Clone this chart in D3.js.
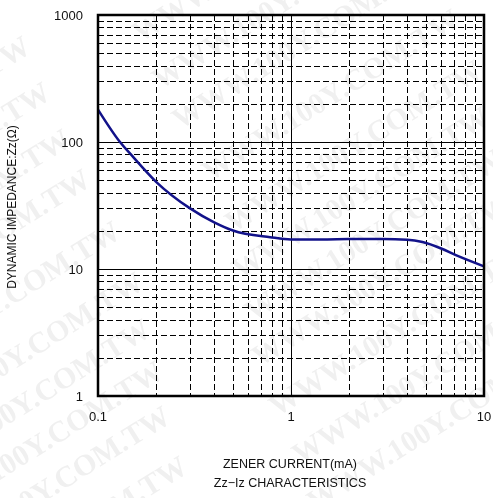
<!DOCTYPE html>
<html>
<head>
<meta charset="utf-8">
<script src="https://cdn.jsdelivr.net/npm/d3@7"></script>
<style>
  body { margin: 0; background: #fff; }
  svg { display: block; font-family: "Liberation Sans", Arial, sans-serif; }
</style>
</head>
<body>
<svg id="chart" width="493" height="498"></svg>
<script>
// Data
const currentMA = [0.1, 0.13, 0.15, 0.2, 0.3, 0.4, 0.5, 0.78, 1.0, 1.5, 2, 3, 4, 4.8, 6, 7.2, 10];
const impedance = [180, 100, 78, 48.6, 30, 23.3, 20.1, 17.8, 17.1, 17.1, 17.2, 17.2, 17.0, 16.3, 14.5, 12.8, 10.5];
const xTickValues = [0.1, 1, 10];
const xTickLabels = ["0.1", "1", "10"];
const yTickValues = [1, 10, 100, 1000];
const yTickLabels = ["1", "10", "100", "1000"];
const xTitle = "ZENER CURRENT(mA)";
const subTitle = "Zz\u2212Iz CHARACTERISTICS";
const yTitle = "DYNAMIC IMPEDANCE:Zz(\u03A9)";
const watermark = "WWW.100Y.COM.TW";
// watermark row anchors (screen positions where a copy starts)
const wmRows = [[120, -3], [140, 43], [160, 90], [180, 130], [210, 182], [233, 233], [240, 280], [253, 322], [260, 367], [277, 417], [300, 465], [315, 512]];

const svg = d3.select("#chart");
const L = 98, R = 484, T = 15, B = 396;

const x = d3.scaleLog().domain([0.1, 10]).range([L, R]);
const y = d3.scaleLog().domain([1, 1000]).range([B, T]);

// faint watermarks
const ang = 32, rad = ang * Math.PI / 180, period = 400;
const wm = svg.append("g").attr("fill", "#000").attr("opacity", 0.06)
  .attr("font-family", "'Liberation Serif', 'DejaVu Serif', serif")
  .attr("font-weight", "bold").attr("font-size", 30);
wmRows.forEach(p => {
  [-1, 0].forEach(k => {
    const sx = p[0] + k * period * Math.cos(rad);
    const sy = p[1] - k * period * Math.sin(rad);
    wm.append("text").attr("transform", `translate(${sx},${sy}) rotate(${-ang})`).text(watermark);
  });
});

// minor grid values
const minorX = [], minorY = [];
[0.1, 1].forEach(d => { for (let k = 2; k <= 9; k++) minorX.push(d * k); });
[1, 10, 100].forEach(d => { for (let k = 2; k <= 9; k++) minorY.push(d * k); });

const grid = svg.append("g");
grid.selectAll(".mx").data(minorX).enter().append("line")
  .attr("x1", d => Math.round(x(d)) + 0.5).attr("x2", d => Math.round(x(d)) + 0.5).attr("y1", T).attr("y2", B)
  .attr("stroke", "#000").attr("stroke-width", 1).attr("stroke-dasharray", "6,3");
grid.selectAll(".my").data(minorY).enter().append("line")
  .attr("y1", d => Math.round(y(d)) + 0.5).attr("y2", d => Math.round(y(d)) + 0.5).attr("x1", L).attr("x2", R)
  .attr("stroke", "#000").attr("stroke-width", 1).attr("stroke-dasharray", "6,3");
// major decade lines
grid.selectAll(".Mx").data([1]).enter().append("line")
  .attr("x1", d => Math.round(x(d)) + 0.5).attr("x2", d => Math.round(x(d)) + 0.5).attr("y1", T).attr("y2", B)
  .attr("stroke", "#000").attr("stroke-width", 1);
grid.selectAll(".My").data([10, 100]).enter().append("line")
  .attr("y1", d => Math.round(y(d)) + 0.5).attr("y2", d => Math.round(y(d)) + 0.5).attr("x1", L).attr("x2", R)
  .attr("stroke", "#000").attr("stroke-width", 1);

// curve
const line = d3.line().x(d => x(d[0])).y(d => y(d[1])).curve(d3.curveMonotoneX);
svg.append("path").datum(currentMA.map((c, i) => [c, impedance[i]]))
  .attr("d", line).attr("fill", "none").attr("stroke", "#12128a").attr("stroke-width", 2.5);

// border
svg.append("rect").attr("x", L).attr("y", T).attr("width", R - L).attr("height", B - T)
  .attr("fill", "none").attr("stroke", "#000").attr("stroke-width", 2.5);

// tick labels
svg.selectAll(".yl").data(yTickValues).enter().append("text")
  .attr("x", 83).attr("y", d => y(d)).attr("dy", "0.35em")
  .attr("text-anchor", "end").attr("font-size", 13).attr("fill", "#111")
  .text((d, i) => yTickLabels[i]);
svg.selectAll(".xl").data(xTickValues).enter().append("text")
  .attr("x", d => x(d)).attr("y", 421)
  .attr("text-anchor", "middle").attr("font-size", 13).attr("fill", "#111")
  .text((d, i) => xTickLabels[i]);

// titles
svg.append("text").attr("x", 290).attr("y", 468).attr("text-anchor", "middle")
  .attr("font-size", 12.5).attr("fill", "#111").text(xTitle);
svg.append("text").attr("x", 290).attr("y", 487).attr("text-anchor", "middle")
  .attr("font-size", 12.5).attr("fill", "#111").text(subTitle);
svg.append("text").attr("transform", "translate(16,207) rotate(-90)").attr("text-anchor", "middle")
  .attr("font-size", 12).attr("fill", "#111").text(yTitle);
</script>
</body>
</html>
